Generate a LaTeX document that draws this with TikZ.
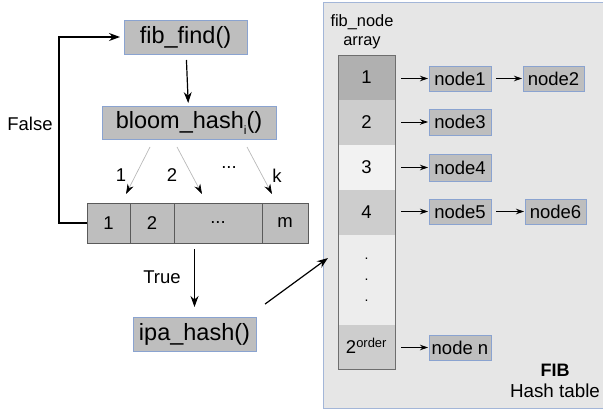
\documentclass[tikz,border=0pt]{standalone}
\usepackage{fontspec}
\setmainfont{Liberation Sans}
\usetikzlibrary{arrows.meta}
\definecolor{boxfill}{HTML}{BEBEBE}
\definecolor{boxline}{HTML}{8AA3D0}
\definecolor{panelfill}{HTML}{E6E6E6}
\definecolor{panelline}{HTML}{A3B6D8}
\definecolor{bitline}{HTML}{5A5A5A}
\definecolor{colline}{HTML}{6E6E6E}
\definecolor{cellA}{HTML}{B0B0B0}
\definecolor{cellB}{HTML}{CDCDCD}
\definecolor{cellC}{HTML}{F2F2F2}
\definecolor{cellD}{HTML}{EDEDED}
\begin{document}
\begin{tikzpicture}[x=1pt,y=-1pt,
  func/.style={draw=boxline, fill=boxfill, line width=0.8pt, inner sep=0pt, outer sep=0pt,
    minimum height=34pt, font=\fontsize{23.5}{28}\selectfont},
  listnode/.style={draw=boxline, fill=boxfill, line width=0.8pt, inner sep=0pt, outer sep=0pt,
    minimum width=62pt, minimum height=25pt, font=\fontsize{18.5}{22}\selectfont},
  bitcell/.style={draw=bitline, fill=boxfill, line width=0.8pt, inner sep=0pt, outer sep=0pt,
    minimum height=40pt, font=\fontsize{18.5}{22}\selectfont},
  slot/.style={inner sep=0pt, outer sep=0pt, minimum width=57pt, minimum height=45pt,
    font=\fontsize{18.5}{22}\selectfont},
  lbl/.style={inner sep=0pt, font=\fontsize{18.5}{22}\selectfont},
  flow/.style={line width=1.2pt, -{Stealth[length=11pt,width=8pt]}},
  hasharrow/.style={draw=gray!55, line width=0.7pt, -{Stealth[length=10pt,width=6.5pt,black]}},
  chain/.style={line width=0.8pt, -{Stealth[length=8pt,width=5.5pt]}}]
\useasboundingbox (0,0) rectangle (603,409);

% hash table panel
\draw[fill=panelfill, draw=panelline, line width=1pt] (323,3) rectangle (606,408);

% lookup pipeline
\node[func, minimum width=123pt] (fib) at (185.5,37) {fib\_find()};
\node[func, minimum width=174pt, minimum height=33pt] (bloom) at (189,122.5)
  {bloom\_hash\raisebox{-6pt}{\fontsize{12}{12}\selectfont i}()};
\node[func, minimum width=123pt] (ipa) at (194.5,334) {ipa\_hash()};

% bloom filter bit array
\node[bitcell, minimum width=43pt] (c1) at (108.5,223) {1};
\node[bitcell, minimum width=44pt] (c2) at (152,223) {2};
\node[bitcell, minimum width=88pt] (cdots) at (218,223) {...};
\node[bitcell, minimum width=46pt] (cm) at (285,223) {m};

\draw[flow, shorten <=6pt, shorten >=3pt] (fib) -- (bloom);
\draw[flow] (c1.west) -- ++(-28,0) coordinate (loopcorner) |- ([xshift=-4pt]fib.west);
\node[lbl] (falselbl) at (30,124) {False};

% hash function arrows
\coordinate (h1s) at (150,147); \coordinate (h1e) at (126,194);
\coordinate (h2s) at (177,147); \coordinate (h2e) at (202,194);
\coordinate (hks) at (247,147); \coordinate (hke) at (272,194);
\draw[hasharrow] (h1s) -- (h1e);
\draw[hasharrow] (h2s) -- (h2e);
\draw[hasharrow] (hks) -- (hke);
\node[lbl] (k1) at (121,175) {1};
\node[lbl] (k2) at (172,175) {2};
\node[lbl] (kdots) at (229,168) {...};
\node[lbl] (kk) at (277,176) {k};

\draw[flow, shorten <=6pt, shorten >=10pt] (cm.south -| ipa) -- (ipa);
\node[lbl] (truelbl) at (162,277) {True};

% fib_node array column
\node[inner sep=0pt, align=center, font=\fontsize{16.4}{19}\selectfont] (arrlbl) at (362,32) {fib\_node\\array};
\node[slot, fill=cellA] (r1) at (366.5,77.5) {1};
\node[slot, fill=cellB] (r2) at (366.5,122.5) {2};
\node[slot, fill=cellC] (r3) at (366.5,167.5) {3};
\node[slot, fill=cellB] (r4) at (366.5,212.5) {4};
\node[slot, fill=cellD, minimum height=90pt, align=center, font=\fontsize{14}{21}\selectfont] (rd) at (366.5,280) {.\\.\\.};
\node[slot, fill=cellB, minimum height=44pt] (rn) at (366.5,347) {\raisebox{3pt}{2\textsuperscript{order}}};
\draw[draw=colline, line width=0.9pt] (r1.north west) rectangle (rn.south east);

\draw[flow, shorten <=5pt] (ipa.north east) ++(5,-10) coordinate (ipaout) -- (328,258) coordinate (tabin);

% bucket chains
\node[listnode] (n1) at (460,78.5) {node1};
\node[listnode, minimum width=61pt] (n2) at (553.5,78.5) {node2};
\node[listnode, minimum height=26pt] (n3) at (460,122) {node3};
\node[listnode, minimum height=27pt] (n4) at (460,167.5) {node4};
\node[listnode] (n5) at (460,211.5) {node5};
\node[listnode, minimum width=61pt] (n6) at (555.5,211.5) {node6};
\node[listnode] (nn) at (460,347.5) {node n};

\draw[chain, shorten <=6pt, shorten >=1pt] (r1.east |- n1) -- (n1);
\draw[chain, shorten <=5pt, shorten >=1pt] (n1) -- (n2);
\draw[chain, shorten <=6pt, shorten >=1pt] (r2.east |- n3) -- (n3);
\draw[chain, shorten <=6pt, shorten >=1pt] (r3.east |- n4) -- (n4);
\draw[chain, shorten <=6pt, shorten >=1pt] (r4.east |- n5) -- (n5);
\draw[chain, shorten <=5pt, shorten >=1pt] (n5) -- (n6);
\draw[chain, shorten <=6pt, shorten >=1pt] (rn.east |- nn) -- (nn);

\node[inner sep=0pt, font=\fontsize{18}{22}\selectfont\bfseries] (fibttl) at (555,370) {FIB};
\node[inner sep=0pt, font=\fontsize{18.8}{22}\selectfont] (fibsub) at (555,391) {Hash table};
\end{tikzpicture}
\end{document}
